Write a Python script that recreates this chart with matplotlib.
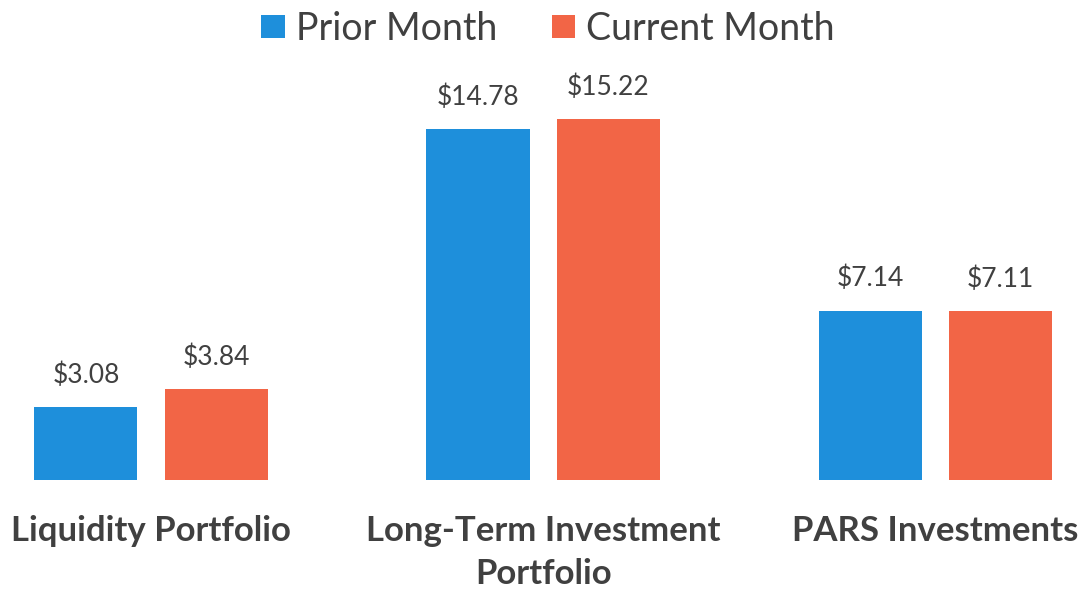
import matplotlib
matplotlib.use("Agg")
import matplotlib.pyplot as plt
from matplotlib.patches import Patch
import numpy as np

categories = ["Liquidity Portfolio", "Long-Term Investment\nPortfolio", "PARS Investments"]
series_names = ["Prior Month", "Current Month"]
prior = [3.08, 14.78, 7.14]
current = [3.84, 15.22, 7.11]
colors = ["#1E8FDB", "#F26546"]
text_color = "#404040"

plt.rcParams['font.family'] = ['Lato', 'DejaVu Sans']

W, H = 1082, 592
fig = plt.figure(figsize=(W / 100, H / 100), dpi=100)
ax = fig.add_axes([0, (H - 480) / H, 1, (480 - 59.2) / H])

x = np.arange(len(categories))
width = 0.263
off = 0.166
b1 = ax.bar(x - off, prior, width, color=colors[0])
b2 = ax.bar(x + off, current, width, color=colors[1])

for bars, vals in ((b1, prior), (b2, current)):
    for rect, v in zip(bars, vals):
        ax.annotate(f"${v:.2f}", (rect.get_x() + rect.get_width() / 2, rect.get_height()),
                    xytext=(0, 23), textcoords='offset points', ha='center', va='center',
                    fontsize=19, color=text_color)

ax.set_xlim(-0.385, 2.374)
ax.set_ylim(0, 17.74)
ax.set_xticks(x)
ax.set_xticklabels(categories, fontsize=25, fontweight='bold', color=text_color, linespacing=1.45)
ax.tick_params(axis='x', length=0, pad=25)
ax.set_yticks([])
for s in ax.spines.values():
    s.set_visible(False)

handles = [Patch(facecolor=c, edgecolor='none') for c in colors]
fig.legend(handles, series_names, loc='center', bbox_to_anchor=(548 / W, 1 - 29 / H),
           ncol=2, frameon=False, fontsize=27, handlelength=0.62, handleheight=0.58,
           handletextpad=0.3, columnspacing=1.45, labelcolor=text_color)

fig.savefig("out.png", dpi=100)
